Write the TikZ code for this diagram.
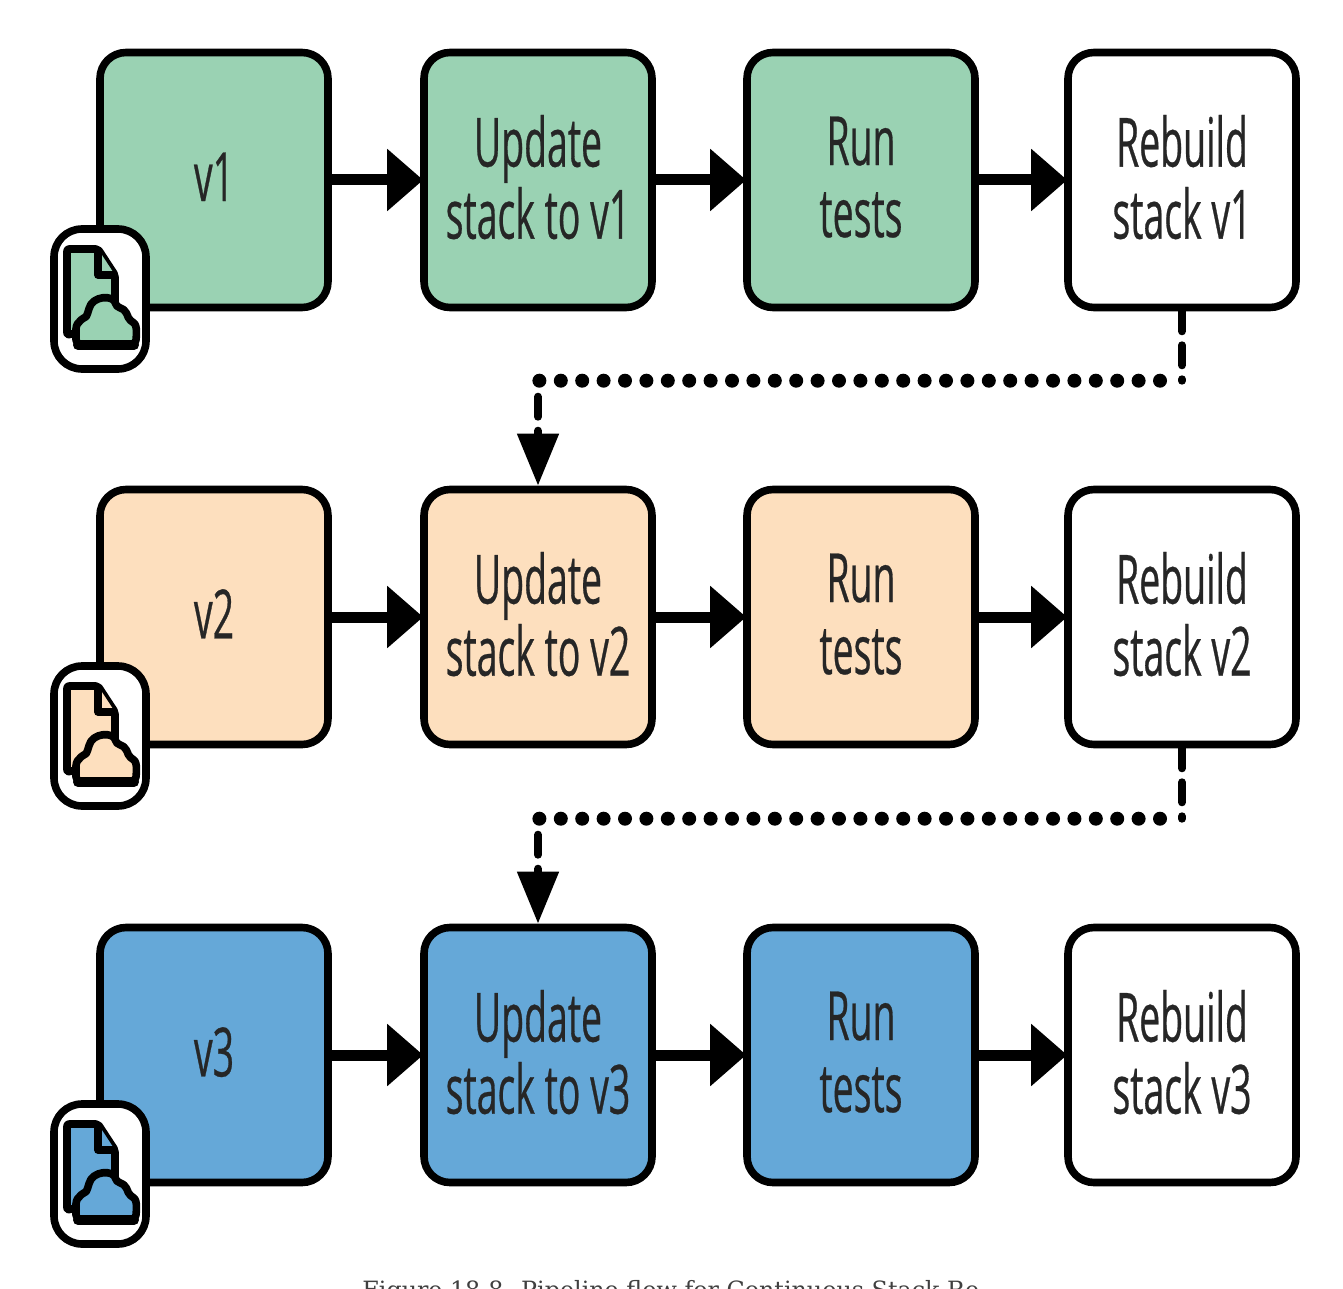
\documentclass[tikz,border=0pt]{standalone}
\usepackage{fontspec}
\usetikzlibrary{arrows.meta,calc}
\newfontfamily\boxfont[FakeStretch=0.55,FakeBold=0.4]{Open Sans}
\newfontfamily\capfont{DejaVu Serif}
\definecolor{verone}{HTML}{9AD2B3}
\definecolor{vertwo}{HTML}{FDDFBE}
\definecolor{verthree}{HTML}{65A8D8}
\tikzset{
    stepbox/.style={draw,line width=3.8pt,rounded corners=13pt,minimum width=114pt,minimum height=127.5pt,
        align=center,text=black!85,text depth=3.2pt,font=\boxfont\fontsize{34}{36}\selectfont},
    flow/.style={line width=5.5pt,shorten >=-1.5pt,-{Triangle[length=18pt,width=30pt]}},
    dots/.style={line width=7pt,line cap=round,dash pattern=on 0pt off 10.7pt},
    dashpart/.style={line width=4pt,line cap=round,dash pattern=on 10pt off 7pt},
    iconline/.style={line width=3.8pt,line join=round},
    pics/stackicon/.style={code={
        \draw[iconline,rounded corners=14pt,fill=white] (-46,-70) rectangle (46,70);
        \draw[iconline,fill=#1,rounded corners=1pt] (-33,-50) -- (-2,-50) -- (15,-24) -- (15,26) -- (-33,36) -- cycle;
        \draw[iconline,fill=#1] (-2,-50) -- (-2,-24) -- (15,-24);
        \draw[iconline,fill=#1,rounded corners=2pt] (-24,45) -- (-24,34) .. controls (-24,22) and (-14,18) .. (-12,14)
            .. controls (-8,-4) and (14,-4) .. (16,8) .. controls (26,10) and (28,18) .. (30,22)
            .. controls (38,26) and (36,40) .. (36,45) -- cycle;
        \draw[line width=5pt,line cap=round] (-22,46) -- (34,46);
    }}
}
\begin{document}
\begin{tikzpicture}[x=0.5pt,y=-0.5pt]
    \useasboundingbox (0,0) rectangle (1343,1289);
    \foreach \row/\ver/\verfill/\ypos in {1/v1/verone/180,2/v2/vertwo/617,3/v3/verthree/1055}{
        \node[stepbox,fill=\verfill] (code\row) at (214,\ypos) {\ver};
        \node[stepbox,fill=\verfill] (update\row) at (538,\ypos) {Update\\stack to \ver};
        \node[stepbox,fill=\verfill] (tests\row) at (861,\ypos) {Run\\tests};
        \node[stepbox,fill=white] (rebuild\row) at (1182,\ypos) {Rebuild\\stack \ver};
        \draw[flow] (code\row) -- (update\row);
        \draw[flow] (update\row) -- (tests\row);
        \draw[flow] (tests\row) -- (rebuild\row);
        \pic at (100,\ypos+119) {stackicon=\verfill};
    }
    % dotted hand-over between the rows
    \foreach \from/\to in {1/2,2/3}{
        \coordinate (turnl\from) at ($(update\to.north)+(0,-105)$);
        \coordinate (turnr\from) at (rebuild\from.south |- turnl\from);
        \draw[dashpart] (rebuild\from.south) -- (turnr\from);
        \draw[dots] ($(turnr\from)+(-22,0)$) -- (turnl\from);
        \draw[dashpart,-{Triangle[length=26pt,width=20pt]}] ($(turnl\from)+(0,16)$) -- (update\to.north);
    }
    \node[font=\capfont\fontsize{11.9}{14}\selectfont,text=black!75,anchor=base west,inner sep=0pt] (caption) at (362,1298)
        {Figure 18-8. Pipeline flow for Continuous Stack Re};
\end{tikzpicture}
\end{document}
